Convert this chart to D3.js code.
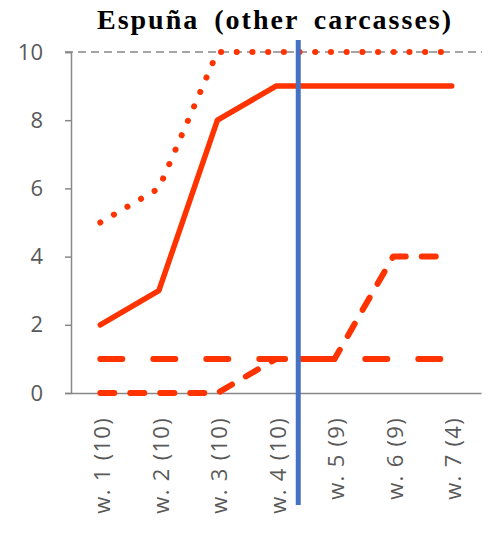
<!DOCTYPE html>
<html><head><meta charset="utf-8">
<script src="https://cdn.jsdelivr.net/npm/d3@7/dist/d3.min.js"></script>
<style>body{margin:0;background:#fff}svg{display:block}</style>
</head><body>
<script>
const categories = ["w. 1 (10)","w. 2 (10)","w. 3 (10)","w. 4 (10)","w. 5 (9)","w. 6 (9)","w. 7 (4)"];
const dottedSeries = [5,6,10,10,10,10,10];
const solidSeries = [2,3,8,9,9,9,9];
const longDashSeries = [1,1,1,1,1,1,1];
const dashSeries = [0,0,0,1,1,4,4];
const yTicks = [0,2,4,6,8,10];
const refLineValue = 10;
const markerPosition = 3.38; // category index of blue vertical line
const title = "Espuña (other carcasses)";

const W = 487, H = 533;
const m = {left:71, right:6, top:52, bottom:140};
const svg = d3.select("body").append("svg").attr("width",W).attr("height",H);

const x = d3.scaleBand().domain(categories).range([m.left, W-m.right]);
const y = d3.scaleLinear().domain([0,10]).range([H-m.bottom, m.top]);
const xi = i => x(categories[0]) + x.bandwidth()/2 + i*x.step();

svg.append("text").attr("x",275).attr("y",29).attr("text-anchor","middle")
  .attr("font-family","Liberation Serif, Times New Roman, serif").attr("font-weight","bold")
  .attr("font-size",28).attr("letter-spacing","2px").attr("word-spacing","6px")
  .attr("fill","#000").text(title);

// y axis
const ya = svg.append("g").attr("transform",`translate(${m.left},0)`)
  .call(d3.axisLeft(y).tickValues(yTicks).tickSize(6).tickPadding(22));
ya.select(".domain").attr("stroke","#888").attr("stroke-width",1.5);
ya.selectAll(".tick line").attr("stroke","#888").attr("stroke-width",1.5);
ya.selectAll(".tick text").attr("font-family","Open Sans, Liberation Sans, sans-serif")
  .attr("font-size",22).attr("fill","#595959");

// x axis
const xa = svg.append("g").attr("transform",`translate(0,${y(0)})`)
  .call(d3.axisBottom(x).tickSize(0).tickPadding(0));
xa.select(".domain").attr("stroke","#888").attr("stroke-width",1.5);
xa.selectAll(".tick text").attr("font-family","Open Sans, Liberation Sans, sans-serif")
  .attr("font-size",22).attr("letter-spacing","1.3px").attr("fill","#595959")
  .attr("transform","rotate(-90)").attr("text-anchor","end")
  .attr("x",-24).attr("y",2).attr("dy","0.35em");

// reference line at 10
svg.append("line").attr("x1",m.left-6).attr("x2",W-5).attr("y1",y(refLineValue)).attr("y2",y(refLineValue))
  .attr("stroke","#888").attr("stroke-width",1.5).attr("stroke-dasharray","8,5");

const line = d3.line().x((d,i)=>xi(i)).y(d=>y(d));
const red = "#FF3300";
function draw(data, dash, w){
  svg.append("path").datum(data).attr("d",line).attr("fill","none")
    .attr("stroke",red).attr("stroke-width",w).attr("stroke-linecap","round")
    .attr("stroke-linejoin","round").attr("stroke-dasharray",dash);
}
draw(dottedSeries,"0.1,15.6",6);
draw(solidSeries,null,5.5);
draw(longDashSeries,"22,31",6);
draw(dashSeries,"14,16",6);

// blue vertical line
const bx = xi(markerPosition);
svg.append("line").attr("x1",bx).attr("x2",bx).attr("y1",40).attr("y2",505)
  .attr("stroke","#4472C4").attr("stroke-width",5);
</script>
</body></html>
